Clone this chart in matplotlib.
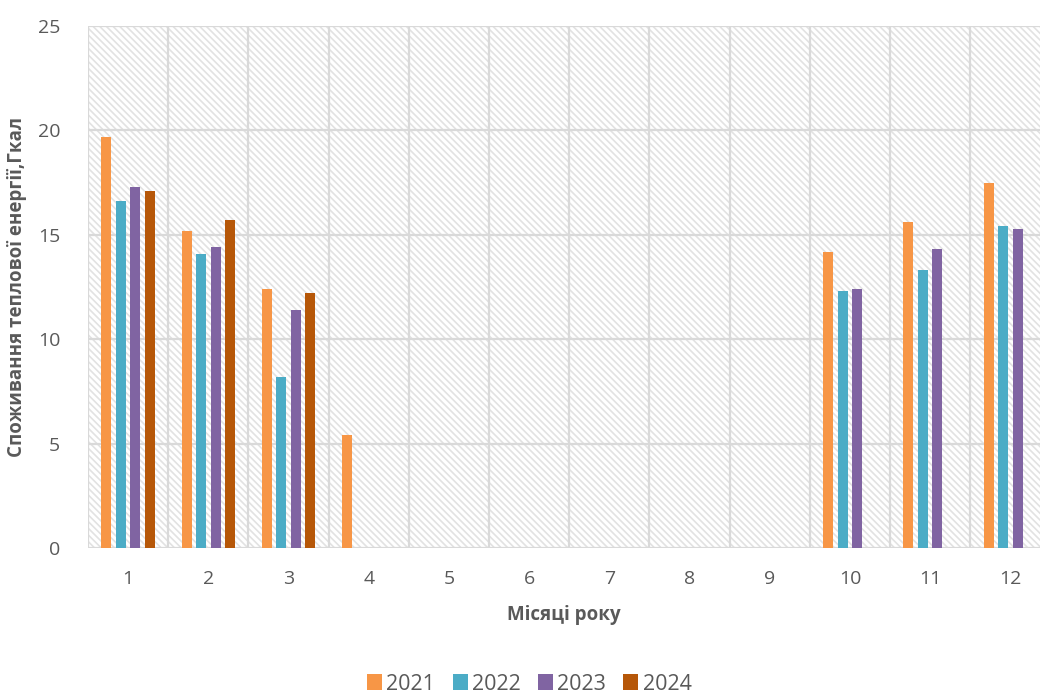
import matplotlib
matplotlib.use("Agg")
import matplotlib.pyplot as plt
from matplotlib.patches import Rectangle
import numpy as np

plt.rcParams['font.family'] = ['Open Sans', 'DejaVu Sans']
plt.rcParams['hatch.linewidth'] = 1.2

months = ["1", "2", "3", "4", "5", "6", "7", "8", "9", "10", "11", "12"]
years = ["2021", "2022", "2023", "2024"]
v2021 = [19.7, 15.2, 12.4, 5.4, 0, 0, 0, 0, 0, 14.2, 15.6, 17.5]
v2022 = [16.6, 14.1, 8.2, 0, 0, 0, 0, 0, 0, 12.3, 13.3, 15.4]
v2023 = [17.3, 14.4, 11.4, 0, 0, 0, 0, 0, 0, 12.4, 14.3, 15.3]
v2024 = [17.1, 15.7, 12.2, 0, 0, 0, 0, 0, 0, 0, 0, 0]
colors = ["#F79646", "#4BACC6", "#8064A2", "#B65708"]

series = [v2021, v2022, v2023, v2024]

fig = plt.figure(figsize=(10.4, 6.95), dpi=100)
ax = fig.add_axes([88/1040, 1-548/695, 1-88/1040, (548-26)/695])

x = np.arange(1, 13)
step = 0.18
width = 0.125
for i, (vals, c, y) in enumerate(zip(series, colors, years)):
    ax.bar(x + (i - 1.5) * step, vals, width=width, color=c, label=y, zorder=3)

ax.set_xlim(0.5, 0.5 + 952/80.2)
ax.set_ylim(0, 25)

# hatched background
bg = Rectangle((0, 0), 1, 1, transform=ax.transAxes, fill=False,
               edgecolor="#e2e2e2", linewidth=0, hatch="\\\\\\\\\\", zorder=0)
ax.add_patch(bg)

gc = "#d9d9d9"
for yv in range(0, 26, 5):
    ax.axhline(yv, color=gc, lw=1.6, zorder=1)
for xv in np.arange(0.5, 13, 1.0):
    ax.axvline(xv, color=gc, lw=1.6, zorder=1)

for s in ax.spines.values():
    s.set_visible(False)

ax.set_xticks(x)
ax.set_xticklabels(months)
ax.set_yticks(range(0, 26, 5))
ax.tick_params(axis='both', length=0, labelsize=14, labelcolor="#595959")
ax.tick_params(axis='x', pad=16)
ax.tick_params(axis='y', pad=20)

ax.set_xlabel("Місяці року", fontsize=13.5, fontweight='bold', color="#595959", labelpad=12)
ax.set_ylabel("Споживання теплової енергії,Гкал", fontsize=13.5, fontweight='bold',
              color="#595959", labelpad=8)

leg = fig.legend(loc='center', bbox_to_anchor=(0.509, 1-684/695), ncol=4, frameon=False,
                 fontsize=15.5, handlelength=0.7, handleheight=0.7, handletextpad=0.2,
                 columnspacing=0.8, labelcolor="#595959")

fig.savefig("out.png", dpi=100)
